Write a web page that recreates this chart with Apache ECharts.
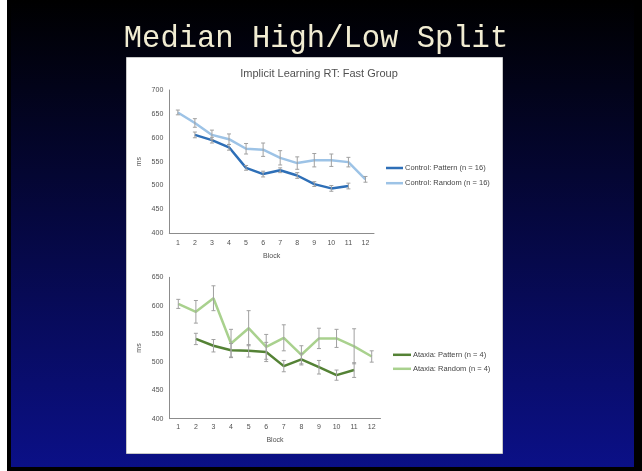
<!DOCTYPE html>
<html>
<head>
<meta charset="utf-8">
<script src="https://cdn.jsdelivr.net/npm/echarts@6/dist/echarts.min.js"></script>
<style>
html,body{margin:0;padding:0;background:#000;}
#chart{width:642px;height:471px;}
</style>
</head>
<body>
<div id="chart"></div>
<script>
const blocks = ['1','2','3','4','5','6','7','8','9','10','11','12'];

const ctrlPattern    = [null, 606, 595, 580, 537, 524, 532, 521, 503, 494, 499, null];
const ctrlPatternErr = [null,   6,   6,   6,   5,   6,   5,   6,   5,   6,   6, null];
const ctrlRandom     = [653, 631, 606, 597, 577, 575, 558, 547, 553, 553, 549, 513];
const ctrlRandomErr  = [  5,   9,  10,  11,  11,  14,  15,  13,  14,  13,  10,   6];

const ataxPattern    = [null, 541, 529, 521, 520, 518, 493, 505, 491, 477, 486, null];
const ataxPatternErr = [null,  10,  11,  12,  11,  17,  10,  10,  12,   9,  13, null];
const ataxRandom     = [603, 589, 613, 533, 560, 527, 543, 513, 542, 542, 528, 510];
const ataxRandomErr  = [  8,  20,  22,  25,  31,  22,  23,  16,  18,  16,  31,  10];

const names = ['Control: Pattern (n = 16)', 'Control: Random (n = 16)',
               'Ataxia: Pattern (n = 4)', 'Ataxia: Random (n = 4)'];

const chart = echarts.init(document.getElementById('chart'), null, {renderer:'canvas'});

function errData(vals, errs){
  const out = [];
  vals.forEach((v,i)=>{ if(v!=null) out.push([i, v-errs[i], v+errs[i]]); });
  return out;
}
function errSeries(vals, errs, axisIdx){
  return {
    type:'custom', xAxisIndex:axisIdx, yAxisIndex:axisIdx, z:5, silent:true,
    encode:{x:0, y:[1,2]},
    data: errData(vals, errs),
    renderItem:function(params, api){
      const lo = api.coord([api.value(0), api.value(1)]);
      const hi = api.coord([api.value(0), api.value(2)]);
      const w = 2;
      const st = {stroke:'#a0a0a0', lineWidth:1};
      return {type:'group', children:[
        {type:'line', shape:{x1:lo[0],y1:lo[1],x2:hi[0],y2:hi[1]}, style:st},
        {type:'line', shape:{x1:lo[0]-w,y1:lo[1],x2:lo[0]+w,y2:lo[1]}, style:st},
        {type:'line', shape:{x1:hi[0]-w,y1:hi[1],x2:hi[0]+w,y2:hi[1]}, style:st}
      ]};
    }
  };
}
function lineSeries(name, vals, color, axisIdx){
  return {
    name:name, type:'line', xAxisIndex:axisIdx, yAxisIndex:axisIdx, z:3,
    data: vals, symbol:'none', smooth:false,
    lineStyle:{color:color, width:2.5}, itemStyle:{color:color}
  };
}
const labelStyle = {color:'#505050', fontSize:7, fontFamily:'Liberation Sans, Arial'};
function xAx(gridIdx, margin, nameGap){
  return {
    type:'category', gridIndex:gridIdx, data:blocks, boundaryGap:true,
    name:'Block', nameLocation:'middle', nameGap:nameGap,
    nameTextStyle:labelStyle,
    axisLine:{lineStyle:{color:'#8c8c8c', width:1}},
    axisTick:{show:false},
    axisLabel:Object.assign({margin:margin, interval:0}, labelStyle),
    splitLine:{show:false}
  };
}
function yAx(gridIdx, min, max){
  return {
    type:'value', gridIndex:gridIdx, min:min, max:max, interval:50,
    name:'ms', nameLocation:'middle', nameGap:27, nameRotate:90,
    nameTextStyle:labelStyle,
    axisLine:{show:true, lineStyle:{color:'#8c8c8c', width:1}},
    axisTick:{show:false},
    axisLabel:Object.assign({margin:6}, labelStyle),
    splitLine:{show:false}
  };
}
const legendText = {color:'#454545', fontSize:7.5, fontFamily:'Liberation Sans, Arial', padding:[0,0,0,-3]};

const option = {
  animation:false,
  graphic:[
    {type:'rect', z:-10, shape:{x:0,y:0,width:642,height:471},
     style:{fill:new echarts.graphic.LinearGradient(0,0,0,1,[{offset:0,color:'#000000'},{offset:1,color:'#0b1088'}])}},
    {type:'rect', z:-9, shape:{x:0,y:0,width:7,height:471}, style:{fill:'#ffffff'}},
    {type:'rect', z:-9, shape:{x:7,y:0,width:4,height:471}, style:{fill:'#000000'}},
    {type:'rect', z:-9, shape:{x:634,y:0,width:8,height:471}, style:{fill:'#000000'}},
    {type:'rect', z:-9, shape:{x:7,y:467,width:635,height:4}, style:{fill:'#000000'}},
    {type:'rect', z:-8, shape:{x:126.5,y:57.5,width:376,height:396},
     style:{fill:'#ffffff', stroke:'#c8c8c8', lineWidth:1}}
  ],
  title:[
    {text:'Median High/Low Split', left:311, textAlign:'center', top:18,
     textStyle:{color:'#f1ecd2', fontSize:30.5, fontWeight:'normal', fontFamily:'Liberation Mono, DejaVu Sans Mono, monospace'}},
    {text:'Implicit Learning RT: Fast Group', left:314, textAlign:'center', top:63,
     textStyle:{color:'#505050', fontSize:11, fontWeight:'normal', fontFamily:'Liberation Sans, Arial'}}
  ],
  legend:[
    {orient:'vertical', left:386, top:164, padding:0, icon:'rect', itemWidth:17, itemHeight:2.5, itemGap:7.2,
     data:[names[0], names[1]], textStyle:legendText},
    {orient:'vertical', left:393, top:350.8, padding:0, icon:'rect', itemWidth:18, itemHeight:2.5, itemGap:6,
     data:[names[2], names[3]], textStyle:legendText}
  ],
  grid:[
    {left:169.3, top:90, width:204.7, height:143.3},
    {left:169.5, top:277.3, width:211, height:141.4}
  ],
  xAxis:[ xAx(0, 6, 19), xAx(1, 5, 18) ],
  yAxis:[ yAx(0, 400, 700), yAx(1, 400, 650) ],
  series:[
    lineSeries(names[0], ctrlPattern, '#2e6fb7', 0),
    lineSeries(names[1], ctrlRandom, '#9dc3e6', 0),
    errSeries(ctrlPattern, ctrlPatternErr, 0),
    errSeries(ctrlRandom, ctrlRandomErr, 0),
    lineSeries(names[2], ataxPattern, '#548235', 1),
    lineSeries(names[3], ataxRandom, '#a9d18e', 1),
    errSeries(ataxPattern, ataxPatternErr, 1),
    errSeries(ataxRandom, ataxRandomErr, 1)
  ]
};
chart.setOption(option);
</script>
</body>
</html>
